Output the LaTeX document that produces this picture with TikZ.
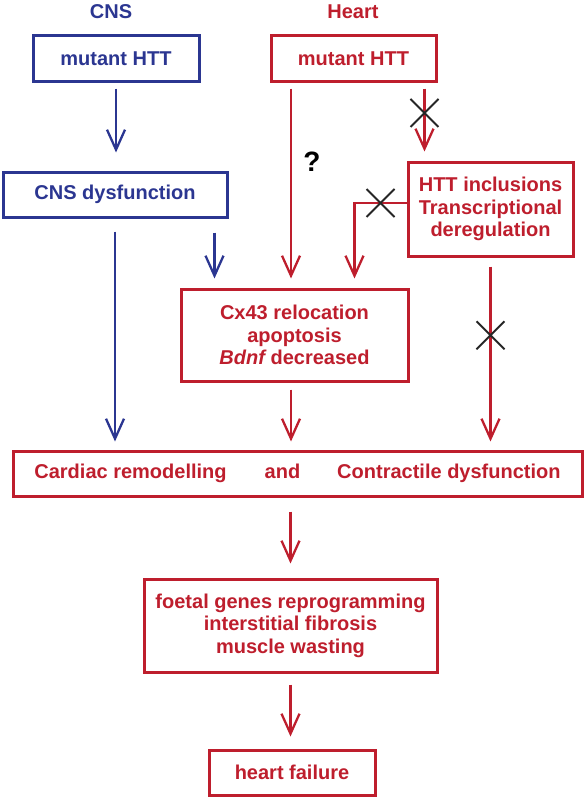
\documentclass[tikz,border=0pt]{standalone}
\usepackage{fontspec}
\setmainfont{Liberation Sans}
\usetikzlibrary{arrows.meta, positioning, calc}
\definecolor{cnsblue}{RGB}{43,54,145}
\definecolor{heartred}{RGB}{190,30,45}

\begin{document}
\begin{tikzpicture}[
    x=1pt, y=-1pt, % 像素坐标(y向下)
    >={Straight Barb[length=20pt, width=18pt]}, % 开口V形箭头
    every node/.style={font=\fontsize{20}{22.5}\selectfont\bfseries},
    box/.style={draw=#1, text=#1, line width=3pt, inner sep=0pt, align=center, minimum height=45pt}, % 方框
    link/.style={draw=#1, line width=2.3pt, ->, shorten <=6pt, shorten >=9pt}, % 连线
    cross/.style={black!85, line width=2pt}, % 叉号
    title/.style={text=#1} % 列标题
]
    \useasboundingbox (0,0) rectangle (587,800);

    % 1. 列标题
    \node[title=cnsblue] (cnsT) at (111,12) {CNS};
    \node[title=heartred] (heartT) at (353,12) {Heart};

    % 2. 方框
    \node[box=cnsblue, minimum width=166pt] (cnsHTT) at (116,58.5) {mutant HTT};
    \node[box=heartred, minimum width=165pt] (heartHTT) at (353.5,58.5) {mutant HTT};
    \node[box=cnsblue, minimum width=224pt] (cnsDys) at (115,194.5) {CNS dysfunction};
    \node[box=heartred, minimum width=165pt, minimum height=94pt] (incl) at (490.5,209) {HTT inclusions\\Transcriptional\\deregulation};
    \node[box=heartred, minimum width=227pt, minimum height=92pt] (cx43) at (294.5,335) {Cx43 relocation\\apoptosis\\{\itshape Bdnf} decreased};
    \node[box=heartred, minimum width=569pt] (remod) at (297.5,473.5) {Cardiac remodelling\hspace{38pt}and\hspace{37pt}Contractile dysfunction};
    \node[box=heartred, minimum width=293pt, minimum height=93pt] (foetal) at (290.5,625.5) {foetal genes reprogramming\\interstitial fibrosis\\muscle wasting};
    \node[box=heartred, minimum width=166pt] (failure) at (292,772.5) {heart failure};
    \node[font=\fontsize{28}{30}\selectfont\bfseries] (quest) at (312,162) {?};

    % 3. CNS 一侧的箭头
    \coordinate (dysR) at ([xshift=-14pt]cnsDys.south east);
    \draw[link=cnsblue, shorten >=18pt] (cnsHTT.south) -- (cnsHTT.south |- cnsDys.north);
    \draw[link=cnsblue, shorten <=13pt, shorten >=8pt] (cnsDys.south) -- (cnsDys.south |- remod.north);
    \draw[link=cnsblue, shorten <=14pt] (dysR) -- (dysR |- cx43.north);

    % 4. Heart 一侧的箭头
    \coordinate (htR) at ([xshift=-13pt]heartHTT.south east);
    \draw[link=heartred] ([xshift=-3.5pt]heartHTT.south -| cx43.north) -- ([xshift=-3.5pt]cx43.north);
    \draw[link=heartred] (htR) -- coordinate[pos=0.39] (x1) (htR |- incl.north);
    \draw[link=heartred, shorten <=0pt] ([yshift=6pt]incl.west) -| coordinate[pos=0.25] (x2) ([xshift=-55pt]cx43.north east);
    \draw[link=heartred, shorten <=7pt, shorten >=8pt] ([xshift=-3.5pt]cx43.south) -- ([xshift=-3.5pt]cx43.south |- remod.north);
    \draw[link=heartred, shorten <=9pt, shorten >=8pt] (incl.south) -- coordinate[pos=0.405] (x3) (incl.south |- remod.north);
    \draw[link=heartred, shorten <=14pt, shorten >=14pt] (remod.south -| foetal.north) -- (foetal.north);
    \draw[link=heartred, shorten <=11pt, shorten >=12pt] (foetal.south) -- (foetal.south |- failure.north);

    % 5. 叉号(被阻断的通路)
    \foreach \c in {x1,x2,x3} {
        \draw[cross] (\c) +(-14,-14) -- +(14,14) +(-14,14) -- +(14,-14);
    }
\end{tikzpicture}
\end{document}
